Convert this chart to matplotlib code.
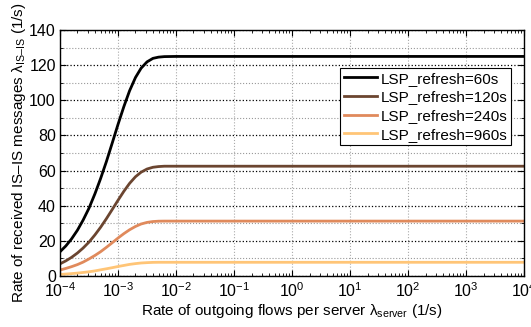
import matplotlib
matplotlib.use("Agg")
import matplotlib.pyplot as plt
from matplotlib.ticker import MultipleLocator, LogLocator, NullFormatter

plt.rcParams['font.family'] = ['Liberation Sans', 'DejaVu Sans']
plt.rcParams['mathtext.fontset'] = 'custom'
plt.rcParams['mathtext.rm'] = 'Liberation Sans'
plt.rcParams['mathtext.it'] = 'Liberation Sans:italic'
plt.rcParams['mathtext.bf'] = 'Liberation Sans:bold'

# rate of outgoing flows per server (1/s)
flow_rate = [1e-4, 1.26e-4, 1.58e-4, 2e-4, 2.5e-4, 3.16e-4, 4e-4, 5e-4, 6.3e-4,
             8e-4, 1e-3, 1.26e-3, 1.58e-3, 2e-3, 2.5e-3, 3.16e-3, 4e-3, 5e-3,
             6.3e-3, 1e-2, 1e4]

# received IS-IS message rate per LSP refresh setting
rate_60 = [13.8, 17.1, 21.1, 26.1, 31.8, 38.6, 46.8, 55.4, 65.1, 76.0, 86.3,
           96.4, 105.4, 113.0, 118.3, 121.9, 123.9, 124.6, 124.9, 125, 125]
rate_120 = [6.9, 8.6, 10.6, 13.1, 15.9, 19.3, 23.4, 27.7, 32.6, 38.0, 43.1,
            48.2, 52.7, 56.5, 59.1, 60.9, 61.9, 62.3, 62.5, 62.5, 62.5]
rate_240 = [3.4, 4.3, 5.3, 6.5, 7.9, 9.7, 11.7, 13.8, 16.3, 19.0, 21.6,
            24.1, 26.3, 28.2, 29.6, 30.5, 31.0, 31.2, 31.25, 31.25, 31.25]
rate_960 = [0.9, 1.1, 1.35, 1.65, 2.0, 2.4, 2.9, 3.5, 4.1, 4.75, 5.4,
            6.0, 6.6, 7.05, 7.4, 7.6, 7.75, 7.8, 7.8, 7.8, 7.8]

labels = ['LSP_refresh=60s', 'LSP_refresh=120s', 'LSP_refresh=240s', 'LSP_refresh=960s']
colors = ['#000000', '#6b4530', '#e08a5c', '#ffc577']

fig = plt.figure(figsize=(5.31, 3.27), dpi=100)
ax = fig.add_axes([0.113, 0.156, 0.874, 0.752])

for ys, lab, c in zip([rate_60, rate_120, rate_240, rate_960], labels, colors):
    ax.plot(flow_rate, ys, color=c, linewidth=2.0, label=lab)

ax.set_xscale('log')
ax.set_xlim(1e-4, 1e4)
ax.set_ylim(0, 140)
ax.yaxis.set_major_locator(MultipleLocator(20))
ax.yaxis.set_minor_locator(MultipleLocator(10))
ax.xaxis.set_major_locator(LogLocator(base=10, numticks=20))
ax.xaxis.set_minor_locator(LogLocator(base=10, subs=range(2, 10), numticks=20))
ax.xaxis.set_minor_formatter(NullFormatter())

ax.grid(True, which='major', axis='y', linestyle=':', color='black', linewidth=0.9)
ax.grid(True, which='minor', axis='y', linestyle=':', color='#999999', linewidth=0.8)
ax.grid(True, which='major', axis='x', linestyle=':', color='#aaaaaa', linewidth=0.8)

ax.tick_params(which='both', direction='in', top=True, right=True, labelsize=11.5)
ax.tick_params(which='major', length=4)
ax.tick_params(which='minor', length=2)
ax.tick_params(axis='x', pad=4)
ax.tick_params(axis='y', pad=3)
for s in ax.spines.values():
    s.set_linewidth(1.0)

ax.set_xlabel('Rate of outgoing flows per server λ$_{\\mathrm{server}}$ (1/s)',
              fontsize=11, labelpad=1)
ax.set_ylabel('Rate of received IS–IS messages λ$_{\\mathrm{IS–IS}}$ (1/s)',
              fontsize=11, labelpad=1)

leg = ax.legend(loc='upper right', bbox_to_anchor=(0.972, 0.846), fontsize=11,
                frameon=True, fancybox=False, edgecolor='black', framealpha=1,
                handlelength=2.15, borderpad=0.25, labelspacing=0.3,
                handletextpad=0.25, borderaxespad=0)
leg.get_frame().set_linewidth(0.8)

fig.savefig('out.png', dpi=100)
